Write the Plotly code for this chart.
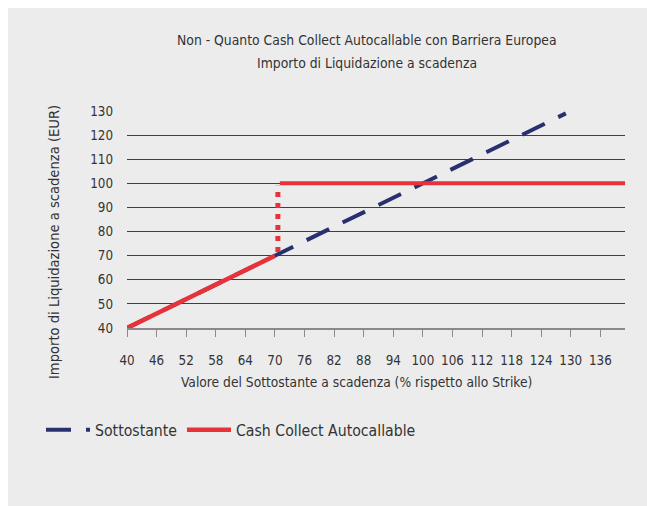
import plotly.graph_objects as go

# ---- data ----
sott_x = [40, 50, 60, 70, 80, 90, 100, 110, 120, 129]
sott_y = [40, 50, 60, 70, 80, 90, 100, 110, 120, 129]

cc_diag_x = [40, 50, 60, 70]
cc_diag_y = [40, 50, 60, 70]
cc_jump_x = [70.6, 70.6]
cc_jump_y = [71.5, 99]
cc_flat_x = [71, 141]
cc_flat_y = [100, 100]

x_ticks = [40, 46, 52, 58, 64, 70, 76, 82, 88, 94, 100, 106, 112, 118, 124, 130, 136]
y_ticks = [40, 50, 60, 70, 80, 90, 100, 110, 120, 130]

title1 = "Non - Quanto Cash Collect Autocallable con Barriera Europea"
title2 = "Importo di Liquidazione a scadenza"
x_title = "Valore del Sottostante a scadenza (% rispetto allo Strike)"
y_title = "Importo di Liquidazione a scadenza (EUR)"

FONT = "DejaVu Sans Condensed, Liberation Sans, sans-serif"
NAVY = "#283070"
RED = "#e8323a"
TXT = "#333333"
BG = "#ececec"

OFF = 8  # page body margin
W, H = 647 - OFF, 506 - OFF
L, T = 119, 103
PW, PH = 498, 217
R, B = W - L - PW, H - T - PH


def sx(x):
    return (x - OFF - L) / PW


def sy(y):
    return (T + PH - (y - OFF)) / PH


fig = go.Figure()
fig.add_trace(go.Scatter(x=sott_x, y=sott_y, mode="lines", name="Sottostante",
                         line=dict(color=NAVY, width=4, dash="25px,15px")))
fig.add_trace(go.Scatter(x=cc_diag_x, y=cc_diag_y, mode="lines", name="Cash Collect Autocallable",
                         line=dict(color=RED, width=4.5), legendgroup="cc"))
fig.add_trace(go.Scatter(x=cc_jump_x, y=cc_jump_y, mode="lines", showlegend=False,
                         line=dict(color=RED, width=5, dash="5px,6px"), legendgroup="cc"))
fig.add_trace(go.Scatter(x=cc_flat_x, y=cc_flat_y, mode="lines", showlegend=False,
                         line=dict(color=RED, width=4), legendgroup="cc"))

fig.update_xaxes(range=[40, 141], tickvals=x_ticks, ticktext=[str(v) for v in x_ticks],
                 showgrid=False, zeroline=False, showline=True, linecolor="#8a8a8a", linewidth=1.5,
                 ticks="outside", ticklen=7, tickcolor="#8a8a8a", ticklabelstandoff=12,
                 tickfont=dict(family=FONT, size=13.3, color=TXT))
fig.update_yaxes(range=[40, 130], tickvals=y_ticks, ticktext=[str(v) for v in y_ticks],
                 showgrid=True, gridcolor="#3f3f3f", gridwidth=1, zeroline=False, showline=False,
                 ticks="", ticklabelstandoff=13,
                 tickfont=dict(family=FONT, size=13.3, color=TXT))

anns = [
    dict(text=title1, x=sx(367), y=sy(40), size=13.8),
    dict(text=title2, x=sx(367), y=sy(63), size=13.8),
    dict(text=x_title, x=sx(356), y=sy(382), size=13.7),
]
annotations = [dict(text=a["text"], x=a["x"], y=a["y"], xref="paper", yref="paper",
                    xanchor="center", yanchor="middle", showarrow=False,
                    font=dict(family=FONT, size=a["size"], color=TXT)) for a in anns]
annotations.append(dict(text=y_title, x=sx(53), y=sy(242), xref="paper", yref="paper",
                        xanchor="center", yanchor="middle", showarrow=False, textangle=-90,
                        font=dict(family=FONT, size=14.6, color=TXT)))

fig.update_layout(
    width=W, height=H,
    margin=dict(l=L, r=R, t=T, b=B, autoexpand=False),
    paper_bgcolor=BG, plot_bgcolor=BG,
    font=dict(family=FONT, color=TXT),
    showlegend=True,
    legend=dict(orientation="h", x=sx(41), y=sy(430), xanchor="left", yanchor="middle",
                bgcolor="rgba(0,0,0,0)", font=dict(family=FONT, size=15.7, color=TXT),
                itemwidth=44, tracegroupgap=0),
    annotations=annotations,
)

page_bg = (
    "var s=document.documentElement.style;"
    "s.overflow='hidden';document.body.style.overflow='hidden';"
    "s.background='linear-gradient(#ffffff,#ffffff) top left/100% 8px no-repeat,"
    "linear-gradient(#ffffff,#ffffff) top left/8px 100% no-repeat,#ececec';"
)
fig.write_html("out.html", post_script=page_bg)
